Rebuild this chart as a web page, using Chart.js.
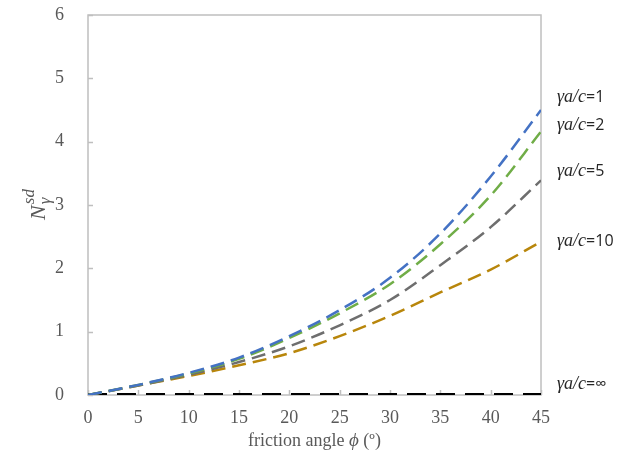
<!DOCTYPE html>
<html>
<head>
<meta charset="utf-8">
<script src="https://cdn.jsdelivr.net/npm/chart.js@4/dist/chart.umd.min.js"></script>
<style>
  html, body { margin: 0; padding: 0; background: #fff; }
  #wrap { width: 634px; height: 468px; }
</style>
</head>
<body>
<div id="wrap"><canvas id="chart"></canvas></div>
<script>
// friction angle (deg)
const angles = [0, 5, 10, 15, 20, 25, 30, 35, 40, 45]

// N_gamma^sd for each gamma*a/c ratio
const ratio1 = [0, 0.16, 0.35, 0.59, 0.93, 1.34, 1.85, 2.55, 3.45, 4.5]
const ratio2 = [0, 0.16, 0.34, 0.57, 0.90, 1.29, 1.75, 2.38, 3.15, 4.16]
const ratio5 = [0, 0.15, 0.32, 0.52, 0.77, 1.10, 1.50, 2.05, 2.65, 3.39]
const ratio10 = [0, 0.15, 0.30, 0.47, 0.66, 0.93, 1.25, 1.62, 1.98, 2.42]
const ratioInf = [0, 0, 0, 0, 0, 0, 0, 0, 0, 0]

const seriesNames = ["1", "2", "5", "10", "∞"]
const yTicks = [0, 1, 2, 3, 4, 5, 6]
const xTicks = [0, 5, 10, 15, 20, 25, 30, 35, 40, 45]

const toPoints = (ys) => angles.map((x, i) => ({ x: x, y: ys[i] }))

const serif = "'Liberation Serif', 'DejaVu Serif', serif"
const sans = "'Open Sans', 'Liberation Sans', sans-serif"

function line(label, data, color, width, dash) {
  return {
    label: label,
    data: toPoints(data),
    borderColor: color,
    borderWidth: width,
    borderDash: dash,
    borderCapStyle: "butt",
    pointRadius: 0,
    fill: false,
    cubicInterpolationMode: "monotone"
  }
}

// frame, inner ticks, axis titles and curve labels
const decorations = {
  id: "decorations",
  beforeDatasetsDraw(chart) {
    const { ctx, chartArea: a, scales: { x, y } } = chart
    ctx.save()
    ctx.strokeStyle = "#BFBFBF"
    ctx.lineWidth = 1.5
    ctx.strokeRect(a.left, a.top, a.right - a.left, a.bottom - a.top)
    ctx.beginPath()
    xTicks.forEach(v => {
      const px = Math.round(x.getPixelForValue(v)) + 0.5
      ctx.moveTo(px, a.bottom)
      ctx.lineTo(px, a.bottom - 5)
    })
    yTicks.forEach(v => {
      const py = Math.round(y.getPixelForValue(v)) + 0.5
      ctx.moveTo(a.left, py)
      ctx.lineTo(a.left + 5, py)
    })
    ctx.stroke()
    ctx.restore()
  },
  afterDraw(chart) {
    const { ctx, chartArea: a, scales: { y } } = chart
    ctx.save()
    ctx.fillStyle = "#595959"
    ctx.textBaseline = "middle"

    // x title: friction angle ϕ (º)
    const parts = [
      { t: "friction angle ", f: "18px " + serif },
      { t: "ϕ", f: "italic 19px " + serif },
      { t: " (º)", f: "18px " + serif }
    ]
    let total = 0
    parts.forEach(p => { ctx.font = p.f; total += ctx.measureText(p.t).width })
    let cx = (a.left + a.right) / 2 - total / 2
    parts.forEach(p => {
      ctx.font = p.f
      ctx.textAlign = "left"
      ctx.fillText(p.t, cx, 441)
      cx += ctx.measureText(p.t).width
    })

    // y title: N_γ^sd rotated
    ctx.save()
    ctx.translate(37, (a.top + a.bottom) / 2)
    ctx.rotate(-Math.PI / 2)
    ctx.font = "italic 22px " + serif
    const nw = ctx.measureText("N").width
    ctx.font = "italic 17px " + serif
    const sw = ctx.measureText("sd").width
    let sx = -(nw + sw) / 2
    ctx.font = "italic 22px " + serif
    ctx.textAlign = "left"
    ctx.fillText("N", sx, 2)
    ctx.font = "italic 17px " + serif
    ctx.fillText("sd", sx + nw + 1, -7)
    ctx.fillText("γ", sx + nw + 1, 9)
    ctx.restore()

    // curve labels on the right
    const labelAt = [4.7, 4.26, 3.53, 2.42, 0.17]
    ctx.fillStyle = "#262626"
    seriesNames.forEach((name, i) => {
      const py = y.getPixelForValue(labelAt[i])
      let lx = a.right + 16
      ctx.font = "italic 18px " + serif
      ctx.textAlign = "left"
      ctx.fillText("γa/c", lx, py)
      lx += ctx.measureText("γa/c").width
      ctx.font = "16px " + sans
      ctx.fillText("=" + name, lx, py)
    })
    ctx.restore()
  }
}

new Chart(document.getElementById("chart"), {
  type: "line",
  data: {
    datasets: [
      line("γa/c=1", ratio1, "#4472C4", 2.5, [14, 7]),
      line("γa/c=2", ratio2, "#70AD47", 2.5, [14, 7]),
      line("γa/c=5", ratio5, "#6E6E6E", 2.5, [14, 7]),
      line("γa/c=10", ratio10, "#B8860B", 2.5, [14, 7]),
      line("γa/c=∞", ratioInf, "#000000", 4, [19, 10])
    ]
  },
  options: {
    responsive: true,
    maintainAspectRatio: false,
    animation: false,
    layout: { padding: { top: 15, right: 93, left: 0, bottom: 0 } },
    plugins: {
      legend: { display: false },
      tooltip: { enabled: false }
    },
    scales: {
      x: {
        type: "linear",
        min: 0,
        max: 45,
        afterBuildTicks: (s) => { s.ticks = xTicks.map(v => ({ value: v })) },
        afterFit: (s) => { s.height = 73; s.paddingLeft = 0; s.paddingRight = 0 },
        grid: { display: false },
        border: { display: false },
        ticks: {
          color: "#595959",
          padding: 4,
          maxRotation: 0,
          font: { family: serif, size: 18 }
        }
      },
      y: {
        min: 0,
        max: 6,
        afterBuildTicks: (s) => { s.ticks = yTicks.map(v => ({ value: v })) },
        afterFit: (s) => { s.width = 88; s.paddingTop = 0; s.paddingBottom = 0 },
        grid: { display: false },
        border: { display: false },
        ticks: {
          color: "#595959",
          padding: 16,
          font: { family: serif, size: 18 }
        }
      }
    }
  },
  plugins: [decorations]
})
</script>
</body>
</html>
